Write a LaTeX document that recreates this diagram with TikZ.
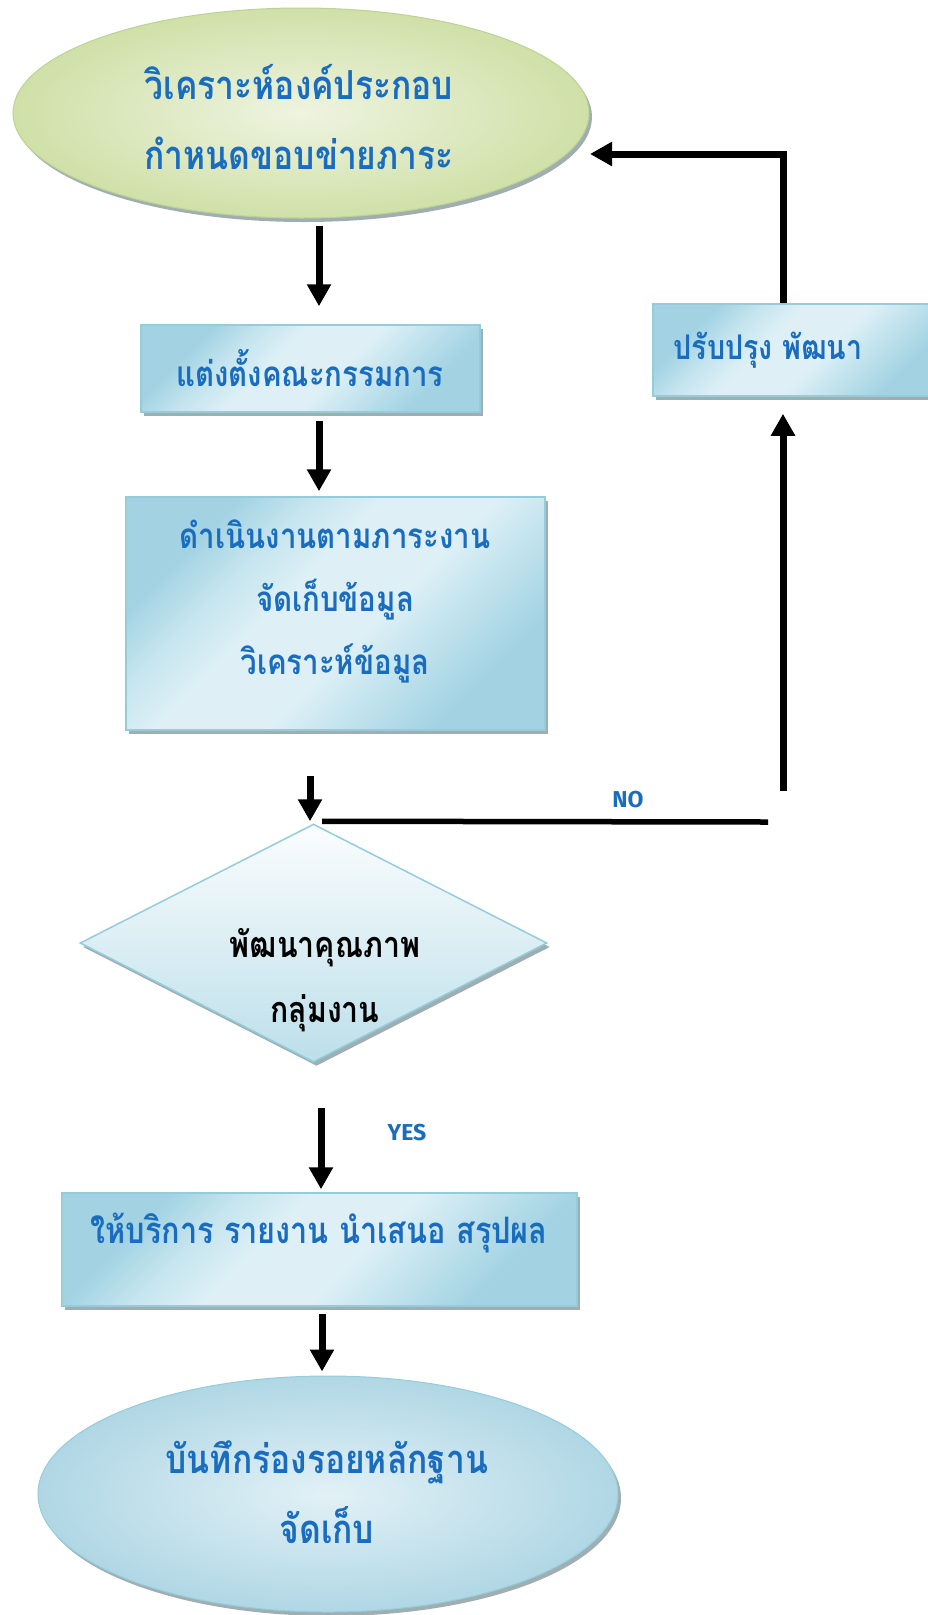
\documentclass[tikz,border=0pt]{standalone}
\usepackage{fontspec}
\newfontfamily\thaifont[Script=Thai,FakeStretch=0.84]{Loma}
\newfontfamily\labfont{Fira Sans}
\usetikzlibrary{shapes.geometric,shadows,arrows.meta}
\definecolor{textblue}{HTML}{1A6DBE}
\definecolor{boxdark}{HTML}{A3D3E3}
\definecolor{boxmid}{HTML}{C6E5EF}
\definecolor{boxlight}{HTML}{DEF0F6}
\definecolor{boxborder}{HTML}{93CDDC}
\definecolor{shadowc}{HTML}{A0AEB2}
\definecolor{greenin}{HTML}{EEF4E0}
\definecolor{greenout}{HTML}{D0E0A8}
\definecolor{greenborder}{HTML}{BDD393}
\definecolor{bluein}{HTML}{E2F1F6}
\definecolor{blueout}{HTML}{B0D7E5}
\definecolor{diatop}{HTML}{FBFDFE}
\definecolor{diabot}{HTML}{BCDFEA}
\pgfdeclarehorizontalshading{boxshade}{100bp}{color(0bp)=(boxdark); color(27bp)=(boxdark); color(38bp)=(boxmid); color(45bp)=(boxlight); color(57bp)=(boxlight); color(65bp)=(boxmid); color(73bp)=(boxdark); color(100bp)=(boxdark)}
\begin{document}
\begin{tikzpicture}[x=1pt,y=-1pt,
  shad/.style={drop shadow={opacity=1,fill=shadowc,shadow xshift=3pt,shadow yshift=-4pt}},
  procbox/.style={rectangle,draw=boxborder,line width=1.5pt,shad,
    shading=boxshade,shading angle=135,inner sep=0pt},
  greenell/.style={ellipse,draw=greenborder,line width=1pt,shad,inner color=greenin,outer color=greenout,inner sep=0pt},
  blueell/.style={ellipse,draw=boxborder,line width=1pt,shad,inner color=bluein,outer color=blueout,inner sep=0pt},
  decide/.style={diamond,draw=boxborder,line width=1.5pt,shad,top color=diatop,bottom color=diabot,inner sep=0pt},
  txt/.style={font=\thaifont\bfseries\fontsize{35}{63}\selectfont,text=textblue,align=center},
  bigtxt/.style={font=\thaifont\bfseries\fontsize{40}{70}\selectfont,text=textblue,align=center},
  dtxt/.style={font=\thaifont\bfseries\fontsize{36}{65}\selectfont,text=black,align=center},
  lab/.style={font=\labfont\bfseries\fontsize{23}{23}\selectfont,text=textblue},
  arr/.style={line width=7pt,-{Triangle[width=23pt,length=22pt]}},
  line/.style={line width=5.5pt}
]
\useasboundingbox (0,0) rectangle (928,1615);

% shapes
\node[greenell,minimum width=576pt,minimum height=210pt] (top) at (301,113) {};
\node[procbox,minimum width=339pt,minimum height=87pt] (box1) at (310.5,368.5) {};
\node[procbox,minimum width=419pt,minimum height=233pt] (box2) at (335.5,613.5) {};
\node[decide,minimum width=467pt,minimum height=238pt] (dia) at (313.5,943) {};
\node[procbox,minimum width=515pt,minimum height=113pt] (box3) at (319.5,1249.5) {};
\node[blueell,minimum width=580pt,minimum height=236pt] (bot) at (328,1494) {};
\node[procbox,minimum width=292pt,minimum height=92pt] (box4) at (799,350) {};

% texts
\node[bigtxt] (topt) at (299,117) {วิเคราะห์องค์ประกอบ\\กำหนดขอบข่ายภาระ};
\node[txt] (box1t) at (310,368) {แต่งตั้งคณะกรรมการ};
\node[txt] (box2t) at (335,601) {ดำเนินงานตามภาระงาน\\จัดเก็บข้อมูล\\วิเคราะห์ข้อมูล};
\node[dtxt] (diat) at (325,980) {พัฒนาคุณภาพ\\กลุ่มงาน};
\node[txt,font=\thaifont\bfseries\fontsize{36.5}{63}\selectfont] (box3t) at (319,1233) {ให้บริการ รายงาน นำเสนอ สรุปผล};
\node[bigtxt] (bott) at (327,1492) {บันทึกร่องรอยหลักฐาน\\จัดเก็บ};
\node[txt,font=\thaifont\bfseries\fontsize{34}{63}\selectfont] (box4t) at (768,350) {ปรับปรุง พัฒนา};

% labels
\node[lab] (nolab) at (628,800) {NO};
\node[lab] (yeslab) at (407,1133) {YES};

% free ends
\coordinate (noend) at (768,822);
\coordinate (upstart) at (783,791);
\coordinate (fbend) at (590,154);

% connectors
\draw[arr] ([xshift=18pt,yshift=-7pt]top.south) -- ([xshift=8.5pt,yshift=18pt]box1.north);
\draw[arr] ([xshift=8.5pt,yshift=-8pt]box1.south) -- ([xshift=-16.5pt,yshift=5pt]box2.north);
\draw[arr] ([xshift=-25.5pt,yshift=-45pt]box2.south) -- ([xshift=-3.5pt,yshift=2pt]dia.north);
\draw[line] ([xshift=8.5pt,yshift=2pt]dia.north) -- (noend);
\draw[arr] (upstart) -- ([xshift=-16pt,yshift=-17pt]box4.south);
\draw[arr] ([xshift=-16pt]box4.north) |- (fbend);
\draw[arr] ([xshift=7.5pt,yshift=-45pt]dia.south) -- ([xshift=1.5pt,yshift=3pt]box3.north);
\draw[arr] ([xshift=2.5pt,yshift=-7pt]box3.south) -- ([xshift=-6pt,yshift=4pt]bot.north);
\end{tikzpicture}
\end{document}
